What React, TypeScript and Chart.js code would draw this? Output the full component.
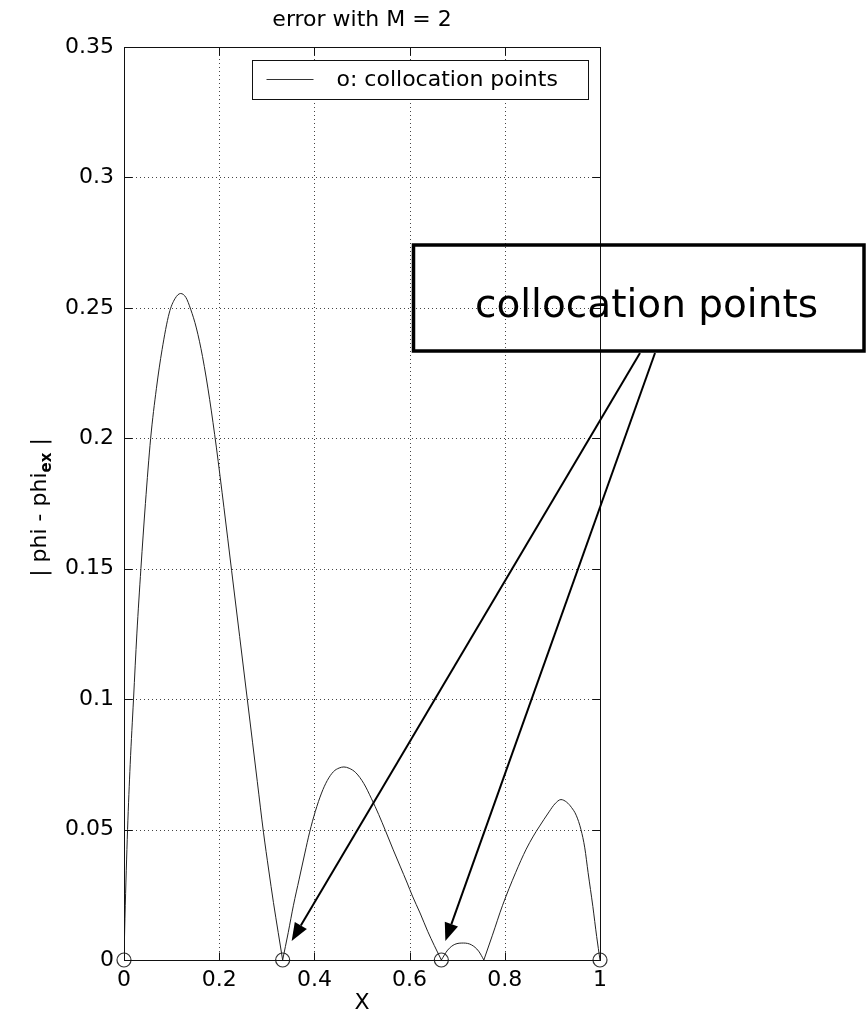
import React, { useEffect, useRef } from 'react';
import { Chart, registerables } from 'chart.js';

Chart.register(...registerables);

// |phi - phi_ex|, one array pair per arch between consecutive zeros
const arch1X = [
  0, 0.002, 0.0075, 0.013, 0.02, 0.027, 0.0355, 0.045, 0.056, 0.068,
  0.08, 0.095, 0.107, 0.119, 0.13, 0.14, 0.152, 0.165, 0.18, 0.194,
  0.21, 0.226, 0.243, 0.259, 0.27, 0.28, 0.293, 0.304, 0.314, 0.324, 0.3333,
];
const arch1Y = [
  0, 0.016, 0.05, 0.075, 0.1, 0.125, 0.15, 0.175, 0.2, 0.219,
  0.234, 0.248, 0.2535, 0.2555, 0.254, 0.2495, 0.2423, 0.2313, 0.2148, 0.1966,
  0.1734, 0.1494, 0.124, 0.1, 0.0835, 0.0685, 0.049, 0.0345, 0.022, 0.0105, 0,
];
const arch2X = [
  0.3333, 0.345, 0.356, 0.368, 0.38, 0.39, 0.402, 0.415, 0.427, 0.44, 0.452,
  0.462, 0.473, 0.487, 0.504, 0.52, 0.535, 0.549, 0.565, 0.58, 0.595,
  0.606, 0.622, 0.638, 0.652, 0.6667,
];
const arch2Y = [
  0, 0.0105, 0.021, 0.031, 0.041, 0.049, 0.057, 0.064, 0.0688, 0.0722, 0.0736,
  0.074, 0.0735, 0.0718, 0.0676, 0.0618, 0.0558, 0.0497, 0.0425, 0.036, 0.0295,
  0.0245, 0.018, 0.011, 0.0055, 0,
];
const arch3X = [0.6667, 0.68, 0.695, 0.713, 0.73, 0.745, 0.756];
const arch3Y = [0, 0.0038, 0.006, 0.0065, 0.0058, 0.0034, 0];
const arch4X = [
  0.756, 0.774, 0.795, 0.823, 0.845, 0.86, 0.872, 0.893, 0.905, 0.918, 0.93,
  0.94, 0.95, 0.96, 0.968, 0.975, 0.985, 0.993, 1,
];
const arch4Y = [
  0, 0.0095, 0.0208, 0.0336, 0.0425, 0.0475, 0.051, 0.0568, 0.0598, 0.0615, 0.0605,
  0.0585, 0.0555, 0.05, 0.043, 0.0335, 0.0205, 0.009, 0,
];

// collocation points (error vanishes there)
const collocationX = [0, 0.3333, 0.6667, 1];
const collocationY = [0, 0, 0, 0];

const xTickValues = [0, 0.2, 0.4, 0.6, 0.8, 1];
const xTickLabels = ['0', '0.2', '0.4', '0.6', '0.8', '1'];
const yTickValues = [0, 0.05, 0.1, 0.15, 0.2, 0.25, 0.3, 0.35];
const yTickLabels = ['0', '0.05', '0.1', '0.15', '0.2', '0.25', '0.3', '0.35'];

const titleText = 'error with M = 2';
const xAxisTitle = 'X';
const yAxisTitleMain = '| phi - phi';
const yAxisTitleSub = 'ex';
const yAxisTitleEnd = ' |';
const legendLabel = 'o: collocation points';
const calloutText = 'collocation points';
// the callout arrows point at these two collocation points
const arrowTargets = [0.3333, 0.6667];

const FONT = '"DejaVu Sans", "Liberation Sans", Arial, sans-serif';
const INK = '#222';

function drawArrow(ctx: CanvasRenderingContext2D, x0: number, y0: number, x1: number, y1: number) {
  const ang = Math.atan2(y1 - y0, x1 - x0);
  const headLen = 18;
  const headHalf = 7;
  const bx = x1 - headLen * Math.cos(ang);
  const by = y1 - headLen * Math.sin(ang);
  ctx.save();
  ctx.strokeStyle = '#000';
  ctx.fillStyle = '#000';
  ctx.lineWidth = 2;
  ctx.beginPath();
  ctx.moveTo(x0, y0);
  ctx.lineTo(bx, by);
  ctx.stroke();
  ctx.beginPath();
  ctx.moveTo(x1, y1);
  ctx.lineTo(bx + headHalf * Math.sin(ang), by - headHalf * Math.cos(ang));
  ctx.lineTo(bx - headHalf * Math.sin(ang), by + headHalf * Math.cos(ang));
  ctx.closePath();
  ctx.fill();
  ctx.restore();
}

const figurePlugin = {
  id: 'figureDecor',
  beforeDraw(chart: any) {
    const ctx = chart.ctx;
    ctx.save();
    ctx.fillStyle = '#fff';
    ctx.fillRect(0, 0, chart.width, chart.height);
    ctx.restore();
  },
  beforeDatasetsDraw(chart: any) {
    const { ctx, chartArea: a, scales } = chart;
    ctx.save();
    ctx.strokeStyle = '#444';
    ctx.lineWidth = 1;
    ctx.setLineDash([1, 3]);
    xTickValues.forEach((v) => {
      const px = Math.round(scales.x.getPixelForValue(v)) + 0.5;
      ctx.beginPath();
      ctx.moveTo(px, a.top);
      ctx.lineTo(px, a.bottom);
      ctx.stroke();
    });
    yTickValues.forEach((v) => {
      const py = Math.round(scales.y.getPixelForValue(v)) + 0.5;
      ctx.beginPath();
      ctx.moveTo(a.left, py);
      ctx.lineTo(a.right, py);
      ctx.stroke();
    });
    ctx.restore();
  },
  afterDatasetsDraw(chart: any) {
    const { ctx, chartArea: a, scales } = chart;
    ctx.save();
    ctx.strokeStyle = '#111';
    ctx.lineWidth = 1;
    ctx.setLineDash([]);
    const L = Math.round(a.left) + 0.5;
    const R = Math.round(a.right) + 0.5;
    const T = Math.round(a.top) + 0.5;
    const B = Math.round(a.bottom) + 0.5;
    ctx.strokeRect(L, T, R - L, B - T);
    const tick = 8;
    ctx.beginPath();
    xTickValues.forEach((v) => {
      const px = Math.round(scales.x.getPixelForValue(v)) + 0.5;
      ctx.moveTo(px, B);
      ctx.lineTo(px, B - tick);
      ctx.moveTo(px, T);
      ctx.lineTo(px, T + tick);
    });
    yTickValues.forEach((v) => {
      const py = Math.round(scales.y.getPixelForValue(v)) + 0.5;
      ctx.moveTo(L, py);
      ctx.lineTo(L + tick, py);
      ctx.moveTo(R, py);
      ctx.lineTo(R - tick, py);
    });
    ctx.stroke();
    ctx.restore();
  },
  afterDraw(chart: any) {
    const { ctx, chartArea: a, scales } = chart;
    const cx = (a.left + a.right) / 2;
    const cy = (a.top + a.bottom) / 2;
    ctx.save();
    ctx.fillStyle = '#000';

    // title
    ctx.font = `22px ${FONT}`;
    ctx.textAlign = 'center';
    ctx.textBaseline = 'alphabetic';
    ctx.fillText(titleText, cx, 26);

    // x label
    ctx.fillText(xAxisTitle, cx, 1009);

    // y label with subscript
    ctx.save();
    ctx.translate(46, cy + 4);
    ctx.rotate(-Math.PI / 2);
    ctx.textAlign = 'left';
    ctx.font = `22px ${FONT}`;
    const w1 = ctx.measureText(yAxisTitleMain).width;
    const w3 = ctx.measureText(yAxisTitleEnd).width;
    ctx.font = `bold 15px ${FONT}`;
    const w2 = ctx.measureText(yAxisTitleSub).width;
    let sx = -(w1 + w2 + w3) / 2;
    ctx.font = `22px ${FONT}`;
    ctx.fillText(yAxisTitleMain, sx, 0);
    sx += w1;
    ctx.font = `bold 15px ${FONT}`;
    ctx.fillText(yAxisTitleSub, sx, 5);
    sx += w2;
    ctx.font = `22px ${FONT}`;
    ctx.fillText(yAxisTitleEnd, sx, 0);
    ctx.restore();

    // legend
    const lgL = a.right - 347.5;
    const lgT = a.top + 13.5;
    const lgW = 336;
    const lgH = 39;
    ctx.fillStyle = '#fff';
    ctx.fillRect(lgL, lgT, lgW, lgH);
    ctx.strokeStyle = '#111';
    ctx.lineWidth = 1;
    ctx.strokeRect(lgL, lgT, lgW, lgH);
    ctx.strokeStyle = '#333';
    ctx.beginPath();
    ctx.moveTo(lgL + 14, lgT + 19);
    ctx.lineTo(lgL + 61, lgT + 19);
    ctx.stroke();
    ctx.fillStyle = '#000';
    ctx.font = `22px ${FONT}`;
    ctx.textAlign = 'left';
    ctx.textBaseline = 'middle';
    ctx.fillText(legendLabel, lgL + 84, lgT + 20);

    // callout box (open, thick border)
    ctx.strokeStyle = '#000';
    ctx.lineWidth = 3.5;
    ctx.strokeRect(413.5, 245, 450.5, 106);
    ctx.font = `39px ${FONT}`;
    ctx.textAlign = 'center';
    ctx.textBaseline = 'alphabetic';
    ctx.fillText(calloutText, 646.5, 317);

    // arrows from the callout to the collocation points
    const y0 = scales.y.getPixelForValue(0);
    const t1x = scales.x.getPixelForValue(arrowTargets[0]) + 9;
    const t2x = scales.x.getPixelForValue(arrowTargets[1]) + 4;
    drawArrow(ctx, 640, 353, t1x, y0 - 19);
    drawArrow(ctx, 655, 353, t2x, y0 - 19);

    ctx.restore();
  },
};

function archDataset(xs: number[], ys: number[], label: string) {
  return {
    label,
    data: xs.map((x, i) => ({ x, y: ys[i] })),
    borderColor: INK,
    borderWidth: 1,
    pointRadius: 0,
    cubicInterpolationMode: 'monotone' as const,
    fill: false,
  };
}

export default function App() {
  const canvasRef = useRef<HTMLCanvasElement | null>(null);

  useEffect(() => {
    const canvas = canvasRef.current;
    if (!canvas) return;
    const chart = new Chart(canvas, {
      type: 'line',
      data: {
        datasets: [
          archDataset(arch1X, arch1Y, legendLabel),
          archDataset(arch2X, arch2Y, 'arch 2'),
          archDataset(arch3X, arch3Y, 'arch 3'),
          archDataset(arch4X, arch4Y, 'arch 4'),
          {
            label: 'collocation',
            data: collocationX.map((x, i) => ({ x, y: collocationY[i] })),
            showLine: false,
            pointRadius: 7,
            pointStyle: 'circle',
            pointBorderColor: '#333',
            pointBackgroundColor: 'rgba(0,0,0,0)',
            pointBorderWidth: 1.2,
            clip: false,
          } as any,
        ],
      },
      options: {
        animation: false,
        responsive: false,
        maintainAspectRatio: false,
        devicePixelRatio: 1,
        layout: { padding: { left: 0, right: 267, top: 47, bottom: 0 } },
        plugins: {
          legend: { display: false },
          title: { display: false },
          tooltip: { enabled: false },
        },
        scales: {
          x: {
            type: 'linear',
            min: 0,
            max: 1,
            grid: { display: false, drawTicks: false },
            border: { display: false },
            afterBuildTicks: (scale: any) => {
              scale.ticks = xTickValues.map((value) => ({ value }));
            },
            afterFit: (scale: any) => {
              scale.height = 68;
            },
            ticks: {
              padding: 7,
              color: '#000',
              maxRotation: 0,
              autoSkip: false,
              font: { family: FONT, size: 22 },
              callback: (value: any) => {
                const i = xTickValues.findIndex((v) => Math.abs(v - Number(value)) < 1e-9);
                return i >= 0 ? xTickLabels[i] : '';
              },
            },
          },
          y: {
            type: 'linear',
            min: 0,
            max: 0.35,
            grid: { display: false, drawTicks: false },
            border: { display: false },
            afterBuildTicks: (scale: any) => {
              scale.ticks = yTickValues.map((value) => ({ value }));
            },
            afterFit: (scale: any) => {
              scale.width = 124;
            },
            ticks: {
              padding: 10,
              color: '#000',
              autoSkip: false,
              font: { family: FONT, size: 22 },
              callback: (value: any) => {
                const i = yTickValues.findIndex((v) => Math.abs(v - Number(value)) < 1e-9);
                return i >= 0 ? yTickLabels[i] : '';
              },
            },
          },
        },
      },
      plugins: [figurePlugin],
    });
    return () => chart.destroy();
  }, []);

  return (
    <div style={{ position: 'fixed', left: 0, top: 0, width: 867, height: 1028, background: '#fff' }}>
      <canvas ref={canvasRef} width={867} height={1028} style={{ display: 'block', width: 867, height: 1028 }} />
    </div>
  );
}
